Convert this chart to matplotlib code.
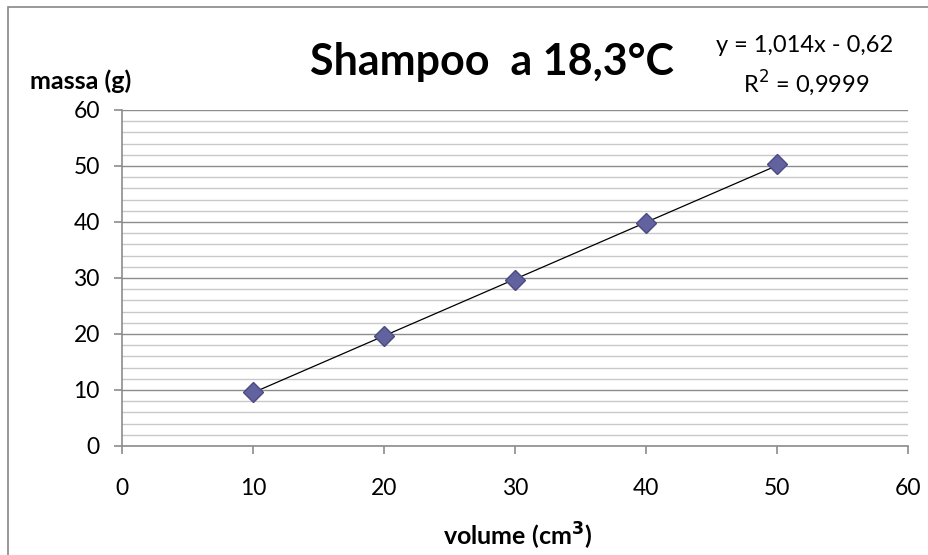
import numpy as np
import matplotlib.pyplot as plt
from matplotlib.patches import Rectangle
from matplotlib.ticker import MultipleLocator

volume = [10, 20, 30, 40, 50]
massa = [9.7, 19.6, 29.6, 39.8, 50.3]

plt.rcParams['font.family'] = ['Lato', 'DejaVu Sans']

W, H = 929, 555
fig = plt.figure(figsize=(W / 100, H / 100), dpi=100)
ax = fig.add_axes([122 / W, (H - 446) / H, 786 / W, 336 / H])

# outer chart frame (left and top edges visible)
fig.patches.append(Rectangle((8 / W, -0.01), 1.0, 1 - 7 / H + 0.01,
                             transform=fig.transFigure, fill=False,
                             edgecolor='#888888', linewidth=1.2))

ax.set_xlim(0, 60)
ax.set_ylim(0, 60)
ax.xaxis.set_major_locator(MultipleLocator(10))
ax.yaxis.set_major_locator(MultipleLocator(10))
ax.yaxis.set_minor_locator(MultipleLocator(2))
ax.grid(True, which='major', axis='y', color='#8c8c8c', linewidth=1.0)
ax.grid(True, which='minor', axis='y', color='#c8c8c8', linewidth=1.0)
ax.set_axisbelow(True)

for s in ['top', 'right']:
    ax.spines[s].set_visible(False)
for s in ['left', 'bottom']:
    ax.spines[s].set_color('#8c8c8c')
    ax.spines[s].set_linewidth(1.2)

ax.tick_params(which='major', direction='out', length=6, width=1.2,
               color='#8c8c8c', labelsize=16.5)
ax.tick_params(axis='x', pad=17)
ax.tick_params(axis='y', pad=10)
ax.tick_params(which='minor', length=0)

# trendline
slope, intercept = np.polyfit(volume, massa, 1)
xs = np.array([min(volume), max(volume)])
ax.plot(xs, slope * xs + intercept, color='black', linewidth=0.9, zorder=3)

ax.plot(volume, massa, linestyle='none', marker='D', markersize=10.5,
        markerfacecolor='#62629e', markeredgecolor='#4a4a85',
        markeredgewidth=1.0, zorder=4, clip_on=False)

fig.text(492 / W, 1 - 75 / H, 'Shampoo  a 18,3°C', fontsize=31,
         fontweight='bold', ha='center', va='baseline')
fig.text(805 / W, 1 - 52 / H, 'y = 1,014x - 0,62', fontsize=17,
         ha='center', va='baseline')
fig.text(806 / W, 1 - 92 / H, r'R$^2$ = 0,9999', fontsize=17,
         ha='center', va='baseline')
fig.text(81 / W, 1 - 89 / H, 'massa (g)', fontsize=18, fontweight='bold',
         ha='center', va='baseline')
fig.text(518 / W, 1 - 546 / H, r'volume (cm$^\mathbf{3}$)', fontsize=18,
         fontweight='bold', ha='center', va='baseline')

fig.savefig('out.png', dpi=100)
